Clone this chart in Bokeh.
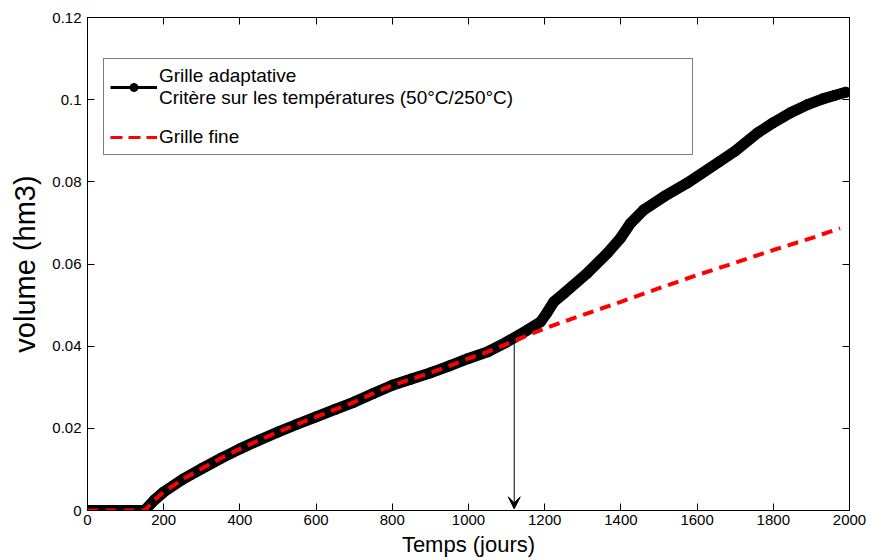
from bokeh.plotting import figure
from bokeh.models import (Legend, LegendItem, LinearAxis, FixedTicker, Arrow,
                          VeeHead, ColumnDataSource, Range1d)
from bokeh.embed import file_html
from bokeh.resources import INLINE

# ---- data ----
adapt_x = [0, 50, 100, 150, 175, 200, 250, 300, 350, 400, 450, 500, 550, 600,
           650, 700, 750, 800, 850, 900, 950, 1000, 1050, 1100, 1154, 1189,
           1205, 1224, 1250, 1311, 1364, 1399, 1425, 1460, 1513, 1574, 1660,
           1700, 1760, 1800, 1845, 1890, 1930, 1960, 1990]
adapt_y = [0.0, 0.0, 0.0, 0.0, 0.0025, 0.0045, 0.0076, 0.0102, 0.0127, 0.0150,
           0.0171, 0.0191, 0.0210, 0.0228, 0.0246, 0.0264, 0.0285, 0.0305,
           0.0320, 0.0335, 0.0352, 0.0370, 0.0386, 0.0410, 0.0439, 0.0459,
           0.0480, 0.0508, 0.0528, 0.0577, 0.0626, 0.0663, 0.0699, 0.0732,
           0.0764, 0.0797, 0.0850, 0.0875, 0.0920, 0.0944, 0.0968, 0.0988,
           0.1002, 0.1010, 0.1018]

fine_x = [0, 50, 100, 150, 175, 200, 250, 300, 350, 400, 450, 500, 550, 600,
          650, 700, 750, 800, 850, 900, 950, 1000, 1050, 1100, 1136, 1200,
          1300, 1400, 1500, 1600, 1700, 1800, 1900, 1975]
fine_y = [0.0, 0.0, 0.0, 0.0, 0.0025, 0.0045, 0.0076, 0.0102, 0.0127, 0.0150,
          0.0171, 0.0191, 0.0210, 0.0228, 0.0246, 0.0264, 0.0285, 0.0305,
          0.0320, 0.0335, 0.0352, 0.0370, 0.0386, 0.0405, 0.0419, 0.0443,
          0.0476, 0.0508, 0.0541, 0.0573, 0.0603, 0.0634, 0.0663, 0.0687]

x_ticks = [0, 200, 400, 600, 800, 1000, 1200, 1400, 1600, 1800, 2000]
x_tick_labels = ["0", "200", "400", "600", "800", "1000", "1200", "1400",
                 "1600", "1800", "2000"]
y_ticks = [0.0, 0.02, 0.04, 0.06, 0.08, 0.10, 0.12]
y_tick_labels = ["0", "0.02", "0.04", "0.06", "0.08", "0.1", "0.12"]

label_adapt = "Grille adaptative\nCritère sur les températures (50°C/250°C)"
label_fine = "Grille fine"
x_title = "Temps (jours)"
y_title = "volume (hm3)"

arrow_x = 1120
arrow_y_top = 0.0418
arrow_y_bottom = 0.0004

FONT = "Liberation Sans"

p = figure(width=869, height=560, output_backend="svg", toolbar_location=None,
           x_range=Range1d(0, 2000), y_range=Range1d(0, 0.12),
           min_border_left=87, min_border_right=20, min_border_top=17,
           min_border_bottom=50)
p.xgrid.visible = False
p.ygrid.visible = False
p.outline_line_color = "black"
p.outline_line_width = 1
p.background_fill_color = "white"
p.border_fill_color = "white"


def style_axis(ax):
    ax.axis_line_color = "black"
    ax.major_tick_line_color = "black"
    ax.major_tick_in = 7
    ax.major_tick_out = 0
    ax.minor_tick_line_color = None
    ax.major_label_text_font = FONT
    ax.major_label_text_color = "black"
    ax.major_label_text_font_size = "15px"


xb = p.xaxis[0]
yl = p.yaxis[0]
xb.ticker = FixedTicker(ticks=x_ticks)
yl.ticker = FixedTicker(ticks=y_ticks)
xb.major_label_overrides = {t: s for t, s in zip(x_ticks, x_tick_labels)}
yl.major_label_overrides = {t: s for t, s in zip(y_ticks, y_tick_labels)}
style_axis(xb)
style_axis(yl)
xb.major_label_standoff = 4
yl.major_label_standoff = 6
xb.axis_label = x_title
yl.axis_label = y_title
xb.axis_label_text_font = FONT
yl.axis_label_text_font = FONT
xb.axis_label_text_font_style = "normal"
yl.axis_label_text_font_style = "normal"
xb.axis_label_text_font_size = "22px"
yl.axis_label_text_font_size = "29px"
xb.axis_label_standoff = 4
yl.axis_label_standoff = 8
xb.axis_label_text_color = "black"
yl.axis_label_text_color = "black"

# top and right axes: ticks only
top_ax = LinearAxis(ticker=FixedTicker(ticks=x_ticks))
right_ax = LinearAxis(ticker=FixedTicker(ticks=y_ticks))
for ax, ticks in ((top_ax, x_ticks), (right_ax, y_ticks)):
    style_axis(ax)
    ax.major_label_overrides = {t: "" for t in ticks}
    ax.major_label_standoff = 0
p.add_layout(top_ax, "above")
p.add_layout(right_ax, "right")

src_a = ColumnDataSource(dict(x=adapt_x, y=adapt_y))
src_f = ColumnDataSource(dict(x=fine_x, y=fine_y))

p.line("x", "y", source=src_a, line_color="black", line_width=11,
       line_join="round", line_cap="round")
p.scatter("x", "y", source=src_a, marker="circle", size=10,
          fill_color="black", line_color="black")
p.line("x", "y", source=src_f, line_color="#ff0000", line_width=4,
       line_dash="11 7")

p.add_layout(Arrow(end=VeeHead(size=12, line_color="black",
                               fill_color="black", line_width=1),
                   x_start=arrow_x, y_start=arrow_y_top,
                   x_end=arrow_x, y_end=arrow_y_bottom,
                   line_color="black", line_width=1))

# legend proxies (kept outside the visible ranges, legend glyphs only)
off = ColumnDataSource(dict(x=[-500, -400], y=[-1, -1]))
leg_line = p.line("x", "y", source=off, line_color="black", line_width=3)
leg_dot = p.scatter("x", "y", source=off, marker="circle", size=8,
                    fill_color="black", line_color="black")
leg_red = p.line("x", "y", source=off, line_color="#ff0000", line_width=3,
                 line_dash="12 6")

legend = Legend(items=[LegendItem(label=label_adapt, renderers=[leg_line, leg_dot]),
                       LegendItem(label=label_fine, renderers=[leg_red])],
                location=(16, 355),
                label_text_font=FONT, label_text_font_size="19px",
                label_text_color="black", label_text_line_height=1.2,
                glyph_width=47, glyph_height=20, label_standoff=2,
                label_width=527, padding=6, spacing=17, margin=0,
                border_line_color="black", border_line_width=1,
                background_fill_color="white", background_fill_alpha=1)
p.add_layout(legend, "center")

open("out.html", "w").write(file_html(p, INLINE))
